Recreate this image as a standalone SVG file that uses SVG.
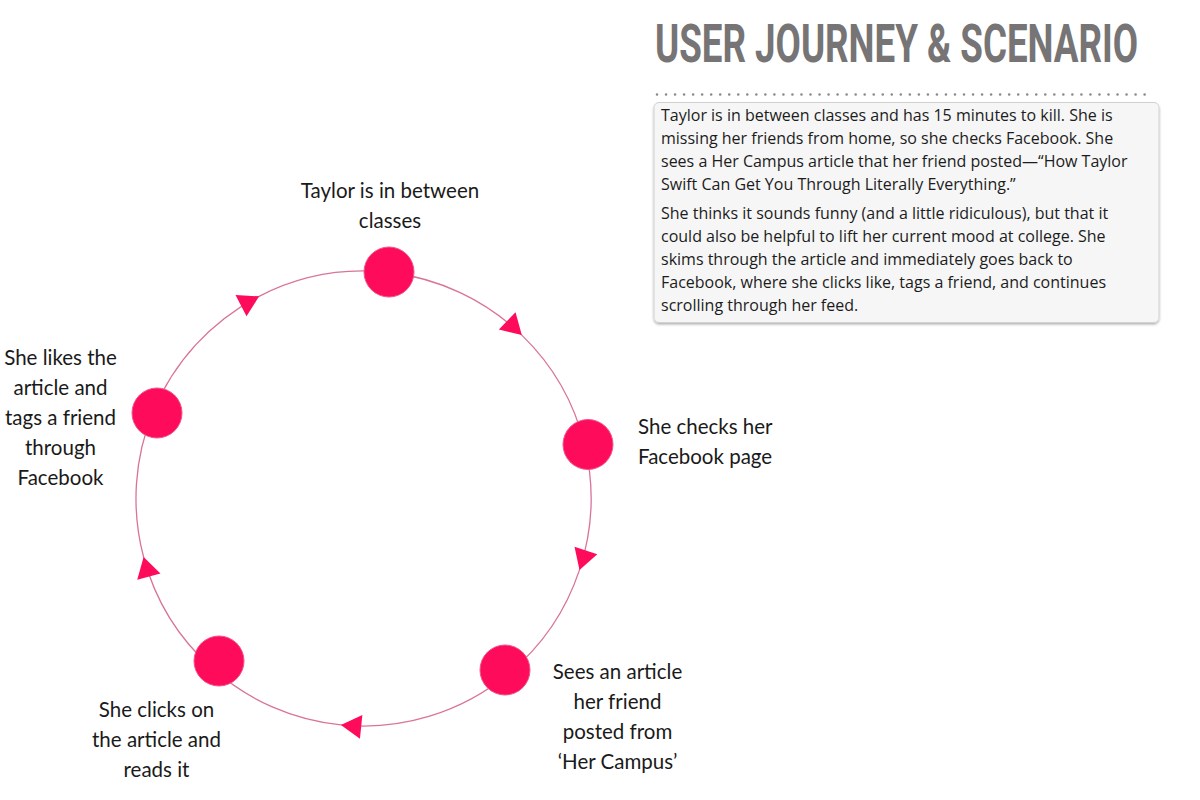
<svg xmlns="http://www.w3.org/2000/svg" width="1200" height="800" viewBox="0 0 1200 800">
  <defs>
    <style>
      .lbl { font-family: Lato, "Noto Sans", "DejaVu Sans", sans-serif; font-size: 20.5px; fill: #1a1a1a; }
      .mid { text-anchor: middle; }
      .node { fill: #fe0b5b; stroke: #f0558a; stroke-width: 1; }
      .conn { fill: none; stroke: #d9739a; stroke-width: 1.3; marker-mid: url(#arrow); }
      .title { font-family: Roboto, "Liberation Sans", sans-serif; font-weight: 700; font-size: 54px; fill: #767474; }
      .body { font-family: "Open Sans", "Noto Sans", sans-serif; font-size: 16px; fill: #1c1c1c; }
    </style>
    <marker id="arrow" markerUnits="userSpaceOnUse" markerWidth="24" markerHeight="26" viewBox="-21 -12 23 24" refX="0" refY="0" orient="auto">
      <path d="M0,0 L-19.5,-11.5 L-19.5,11.5 Z" fill="#fe0b5b"/>
    </marker>
    <filter id="shadow" x="-5%" y="-5%" width="110%" height="115%">
      <feDropShadow dx="0" dy="1.5" stdDeviation="1.2" flood-color="#000" flood-opacity="0.3"/>
    </filter>
  </defs>

  <rect width="1200" height="800" fill="#ffffff"/>

  <g id="header">
    <text class="title" transform="translate(655,62) scale(0.69,1)" x="0" y="0" textLength="700" lengthAdjust="spacingAndGlyphs">USER JOURNEY &amp; SCENARIO</text>
    <line x1="657" y1="94.5" x2="1145" y2="94.5" stroke="#8a8a8a" stroke-width="2.6" stroke-linecap="round" stroke-dasharray="0 9.03"/>
  </g>

  <g id="scenario">
    <rect x="654" y="102.5" width="505" height="220" rx="5" ry="5" fill="#f6f6f6" stroke="#d2d2d2" stroke-width="1" filter="url(#shadow)"/>
    <text class="body">
      <tspan x="661" y="121">Taylor is in between classes and has 15 minutes to kill. She is</tspan>
      <tspan x="661" y="144">missing her friends from home, so she checks Facebook. She</tspan>
      <tspan x="661" y="167">sees a Her Campus article that her friend posted—“How Taylor</tspan>
      <tspan x="661" y="190">Swift Can Get You Through Literally Everything.”</tspan>
      <tspan x="661" y="219">She thinks it sounds funny (and a little ridiculous), but that it</tspan>
      <tspan x="661" y="242">could also be helpful to lift her current mood at college. She</tspan>
      <tspan x="661" y="265">skims through the article and immediately goes back to</tspan>
      <tspan x="661" y="288">Facebook, where she clicks like, tags a friend, and continues</tspan>
      <tspan x="661" y="311">scrolling through her feed.</tspan>
    </text>
  </g>

  <g id="connectors">
    <path id="c1" class="conn" d="M389.3,272.5 A227.5,227.5 0 0 1 521.8,335.1 A227.5,227.5 0 0 1 584.7,445.2"/>
    <path id="c2" class="conn" d="M584.7,445.2 A227.5,227.5 0 0 1 579.5,569.9 A227.5,227.5 0 0 1 508.2,674.0"/>
    <path id="c3" class="conn" d="M508.2,674.0 A227.5,227.5 0 0 1 340.9,724.9 A227.5,227.5 0 0 1 212.5,668.6"/>
    <path id="c4" class="conn" d="M212.5,668.6 A227.5,227.5 0 0 1 143.6,557.0 A227.5,227.5 0 0 1 153.2,411.8"/>
    <path id="c5" class="conn" d="M153.2,411.8 A227.5,227.5 0 0 1 259.1,296.3 A227.5,227.5 0 0 1 389.3,272.5"/>
  </g>

  <g id="n1">
    <circle class="node" cx="389" cy="272" r="25"/>
    <text class="lbl mid" x="390" y="198">Taylor is in between</text>
    <text class="lbl mid" x="390" y="228">classes</text>
  </g>
  <g id="n2">
    <circle class="node" cx="588" cy="444.5" r="25"/>
    <text class="lbl" x="638" y="434">She checks her</text>
    <text class="lbl" x="638" y="464">Facebook page</text>
  </g>
  <g id="n3">
    <circle class="node" cx="505" cy="670" r="25"/>
    <text class="lbl mid" x="617.5" y="679">Sees an article</text>
    <text class="lbl mid" x="617.5" y="709">her friend</text>
    <text class="lbl mid" x="617.5" y="739">posted from</text>
    <text class="lbl mid" x="617.5" y="769">‘Her Campus’</text>
  </g>
  <g id="n4">
    <circle class="node" cx="219" cy="661" r="25"/>
    <text class="lbl mid" x="156.5" y="717">She clicks on</text>
    <text class="lbl mid" x="156.5" y="747">the article and</text>
    <text class="lbl mid" x="156.5" y="777">reads it</text>
  </g>
  <g id="n5">
    <circle class="node" cx="157" cy="413" r="25"/>
    <text class="lbl mid" x="60.5" y="365">She likes the</text>
    <text class="lbl mid" x="60.5" y="395">article and</text>
    <text class="lbl mid" x="60.5" y="425">tags a friend</text>
    <text class="lbl mid" x="60.5" y="455">through</text>
    <text class="lbl mid" x="60.5" y="485">Facebook</text>
  </g>
</svg>
